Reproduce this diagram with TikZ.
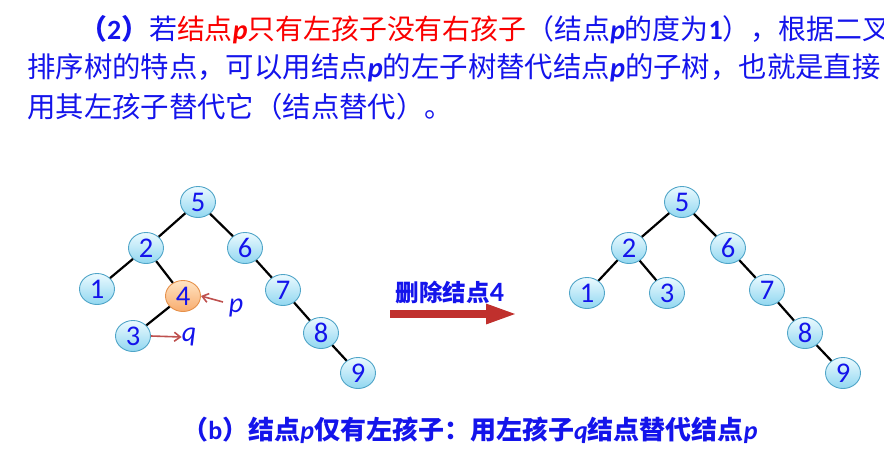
\documentclass[tikz,border=0pt]{standalone}
\usepackage{fontspec}
\setmainfont{Noto Sans CJK SC}
\newfontfamily\latin{Carlito}
\usepackage{tikz}
\usetikzlibrary{shapes.geometric,arrows.meta}
\definecolor{txtblue}{RGB}{20,20,235}
\definecolor{txtred}{RGB}{250,0,0}
\definecolor{bstline}{RGB}{80,165,200}
\definecolor{bsttop}{RGB}{235,250,255}
\definecolor{bstbot}{RGB}{145,215,240}
\definecolor{deltop}{RGB}{255,228,195}
\definecolor{delbot}{RGB}{248,172,110}
\definecolor{delline}{RGB}{230,145,75}
\definecolor{ptrred}{RGB}{190,80,78}
\definecolor{bigred}{RGB}{192,48,45}
\newcommand{\vp}{{\latin\bfseries\itshape p}}
\newcommand{\vq}{{\latin\bfseries\itshape q}}

\begin{document}
\begin{tikzpicture}[x=1pt,y=-1pt,
	bst/.style={ellipse, draw=bstline, line width=0.9pt, top color=bsttop, bottom color=bstbot, minimum width=35pt, minimum height=31pt, inner sep=0pt, text=txtblue, font=\latin\fontsize{28.5}{28.5}\selectfont},
	delnode/.style={bst, draw=delline, top color=deltop, bottom color=delbot},
	edge/.style={line width=2.2pt},
	ptr/.style={ptrred, line width=1.6pt, -{Straight Barb[length=6pt,width=9pt]}},
	para/.style={anchor=west, inner sep=0pt, text=txtblue, font=\fontsize{28.4}{30}\selectfont},
	lbl/.style={text=txtblue, inner sep=0pt, font=\latin\itshape\fontsize{28}{28}\selectfont}]
	\useasboundingbox (0,0) rectangle (884,455);
	\clip (0,0) rectangle (884,455);
	\node[para, font=\fontsize{27.9}{30}\selectfont] (l1) at (79,30) {{\bfseries （{\latin 2}）}若\textcolor{txtred}{结点\vp 只有左孩子没有右孩子}（结点\vp 的度为{\latin\bfseries 1}），根据二叉};
	\node[para] (l2) at (27,68) {排序树的特点，可以用结点\vp 的左子树替代结点\vp 的子树，也就是直接};
	\node[para] (l3) at (27,107) {用其左孩子替代它（结点替代）。};

	\node[bst] (a5) at (198,202) {5};
	\node[bst] (a2) at (146,248) {2};
	\node[bst] (a6) at (245,248) {6};
	\node[bst] (a1) at (97,289) {1};
	\node[delnode] (a4) at (183,296) {4};
	\node[bst] (a7) at (283,290) {7};
	\node[bst] (a3) at (133,336) {3};
	\node[bst] (a8) at (321,333) {8};
	\node[bst] (a9) at (358,373) {9};
	\foreach \u/\v in {a5/a2, a5/a6, a2/a1, a2/a4, a4/a3, a6/a7, a7/a8, a8/a9}
		\draw[edge] (\u) -- (\v);
	\node[lbl] (lp) at (236,308) {p};
	\node[lbl] (lq) at (189,337) {q};
	\coordinate (pstart) at (223,302);
	\draw[ptr] (pstart) -- (a4.east);
	\draw[ptr] (a3.east) -- (lq.west);

	\coordinate (arrS) at (390,314);
	\coordinate (arrE) at (518,314);
	\draw[bigred, line width=8pt, -{Triangle[length=32pt,width=18pt]}] (arrS) -- (arrE);
	\node[text=txtblue, font=\bfseries\fontsize{23.5}{24}\selectfont] (dlab) at (450,293) {删除结点{\latin\fontsize{28}{28}\selectfont 4}};

	\node[bst] (b5) at (682,202) {5};
	\node[bst] (b2) at (629,248) {2};
	\node[bst] (b6) at (728,248) {6};
	\node[bst] (b1) at (587,293) {1};
	\node[bst] (b3) at (667,293) {3};
	\node[bst] (b7) at (767,290) {7};
	\node[bst] (b8) at (805,333) {8};
	\node[bst] (b9) at (843,373) {9};
	\foreach \u/\v in {b5/b2, b5/b6, b2/b1, b2/b3, b6/b7, b7/b8, b8/b9}
		\draw[edge] (\u) -- (\v);

	\node[text=txtblue, font=\bfseries\fontsize{26}{26}\selectfont] (cap) at (470,430) {（{\latin b}）结点\vp 仅有左孩子：用左孩子\vq 结点替代结点\vp};
\end{tikzpicture}
\end{document}
